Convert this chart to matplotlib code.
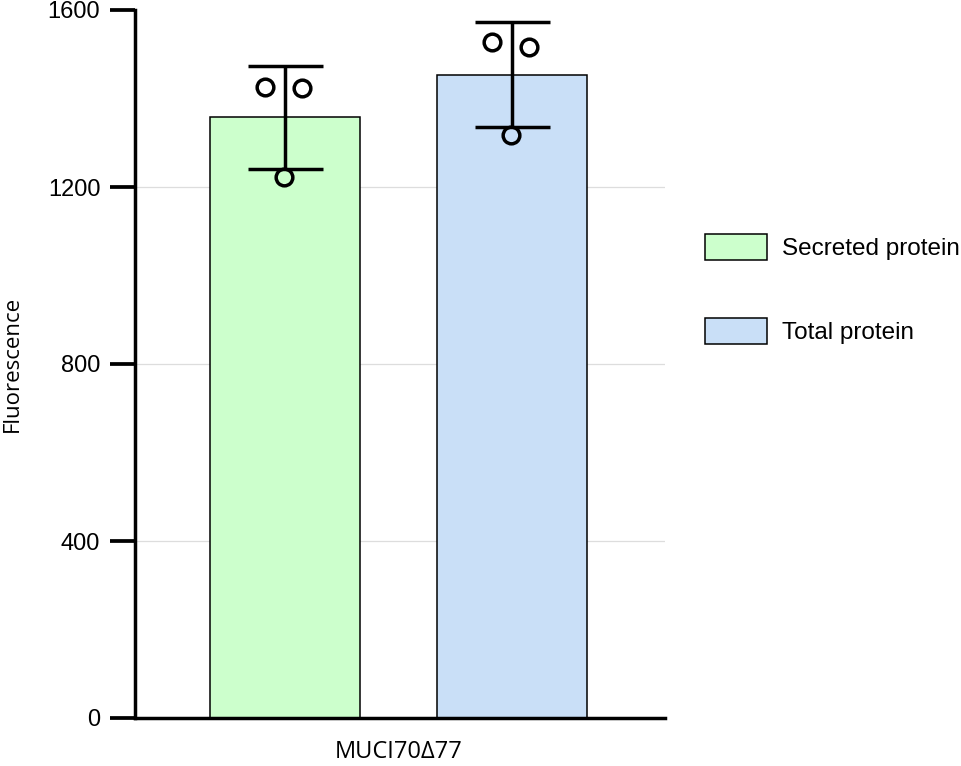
import numpy as np
import matplotlib.pyplot as plt

# replicate values
groups = ["Secreted protein", "Total protein"]
secreted = np.array([1426, 1424, 1223])
total = np.array([1528, 1516, 1318])
category = "MUCI70\u039477"
yticks = [0, 400, 800, 1200, 1600]

colors = ["#ccffcc", "#c9dff7"]
jitter = [-0.088, 0.075, -0.004]

values = [secreted, total]
means = [v.mean() for v in values]
sds = [v.std(ddof=1) for v in values]
x = np.arange(len(groups))

fig = plt.figure(figsize=(9.61, 7.66), dpi=100)
ax = fig.add_axes([135 / 961, 48 / 766, 530 / 961, 708 / 766])

# bars
for i in range(len(groups)):
    ax.bar(x[i], means[i], width=0.66, color=colors[i], edgecolor="black",
           linewidth=1.1, label=groups[i], zorder=2)

# SD error bars
ax.errorbar(x, means, yerr=sds, fmt="none", ecolor="black", elinewidth=2.5,
            capsize=27, capthick=2.5, zorder=3)

# individual points
for i in range(len(groups)):
    ax.plot(x[i] + np.array(jitter), values[i], "o", mfc="none", mec="black",
            ms=12, mew=2.5, zorder=4, clip_on=False)

ax.set_xlim(-0.661, 1.674)
ax.set_ylim(0, 1600)
ax.set_yticks(yticks)
ax.set_yticklabels([str(t) for t in yticks], fontsize=17,
                   family="Liberation Sans")
ax.set_xticks([0.5])
ax.set_xticklabels([category], fontsize=17, family="Open Sans")
ax.tick_params(axis="x", length=0, pad=16)
ax.tick_params(axis="y", length=18, width=2.7, pad=7)

ax.set_ylabel("Fluorescence", fontsize=16, family="Open Sans", va="center")
ax.yaxis.set_label_coords(-0.232, 0.5)

ax.spines["top"].set_visible(False)
ax.spines["right"].set_visible(False)
ax.spines["left"].set_linewidth(2.5)
ax.spines["bottom"].set_linewidth(2.5)

ax.grid(axis="y", color="#dddddd", linewidth=0.9, zorder=0)
ax.set_axisbelow(True)
ax.get_ygridlines()[-1].set_visible(False)

ax.legend(loc="upper left", bbox_to_anchor=(705 / 961, 1 - 234 / 766),
          bbox_transform=fig.transFigure, frameon=False, borderpad=0,
          borderaxespad=0, handlelength=2.55, handleheight=1.25,
          labelspacing=2.4, handletextpad=0.6,
          prop={"family": "Liberation Sans", "size": 17.5})

fig.savefig("out.png", dpi=100)
